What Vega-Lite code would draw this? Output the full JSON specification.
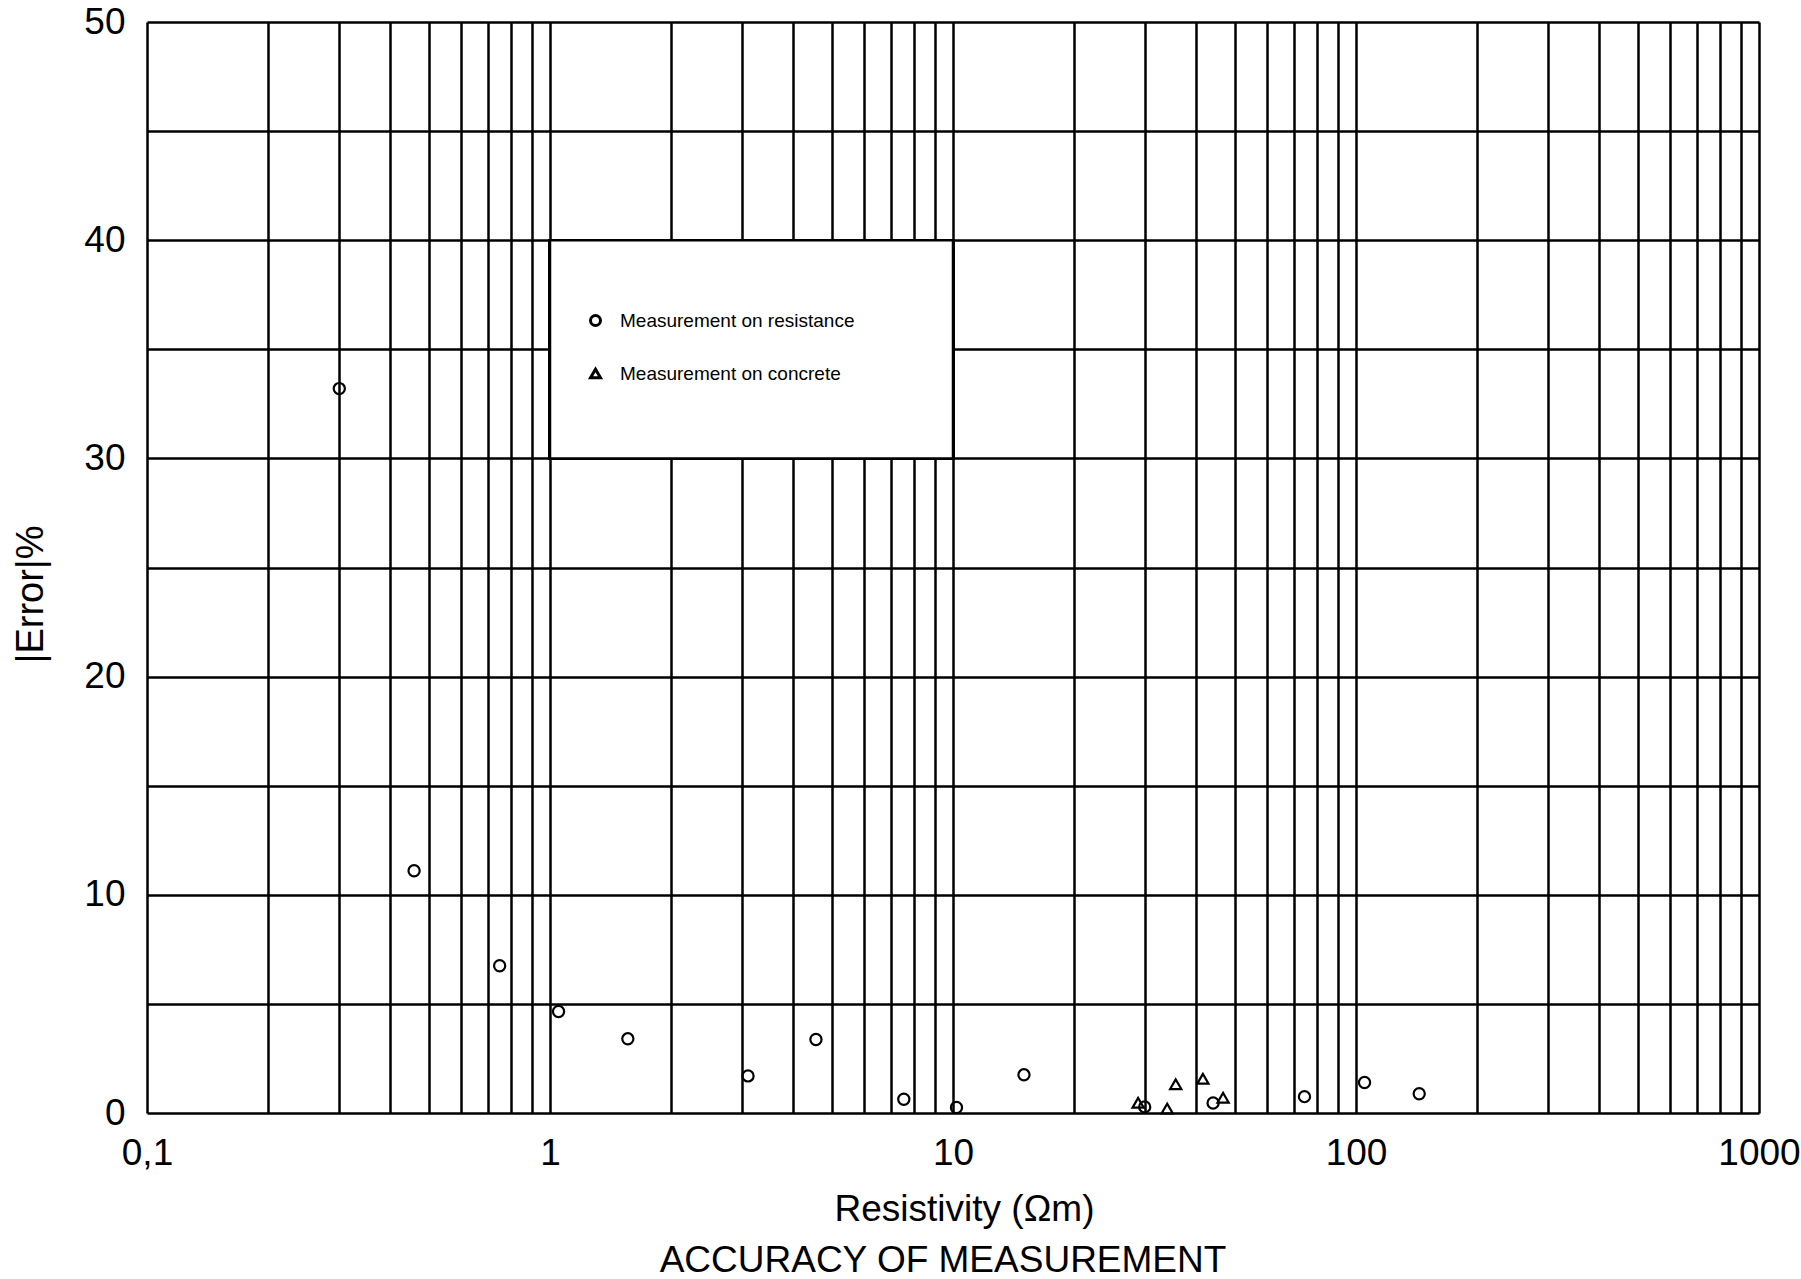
{
  "$schema": "https://vega.github.io/schema/vega-lite/v6.json",
  "width": 1612,
  "height": 1091,
  "autosize": {"type": "none"},
  "padding": {"left": 147, "top": 22, "right": 42, "bottom": 166},
  "background": "white",
  "title": {
    "text": "ACCURACY  OF  MEASUREMENT",
    "orient": "bottom",
    "anchor": "middle",
    "font": "Liberation Sans",
    "fontSize": 37,
    "fontWeight": "normal",
    "color": "black",
    "dx": -10,
    "offset": 16
  },
  "data": {
    "values": [
      {"rho": 0.3, "err": 33.2, "type": "Measurement on resistance"},
      {"rho": 0.46, "err": 11.1, "type": "Measurement on resistance"},
      {"rho": 0.75, "err": 6.75, "type": "Measurement on resistance"},
      {"rho": 1.05, "err": 4.65, "type": "Measurement on resistance"},
      {"rho": 1.56, "err": 3.4, "type": "Measurement on resistance"},
      {"rho": 3.1, "err": 1.7, "type": "Measurement on resistance"},
      {"rho": 4.57, "err": 3.37, "type": "Measurement on resistance"},
      {"rho": 7.55, "err": 0.63, "type": "Measurement on resistance"},
      {"rho": 10.2, "err": 0.25, "type": "Measurement on resistance"},
      {"rho": 15.0, "err": 1.75, "type": "Measurement on resistance"},
      {"rho": 29.9, "err": 0.28, "type": "Measurement on resistance"},
      {"rho": 44.2, "err": 0.46, "type": "Measurement on resistance"},
      {"rho": 74.5, "err": 0.75, "type": "Measurement on resistance"},
      {"rho": 105, "err": 1.4, "type": "Measurement on resistance"},
      {"rho": 143.5, "err": 0.88, "type": "Measurement on resistance"},
      {"rho": 28.8, "err": 0.47, "type": "Measurement on concrete"},
      {"rho": 34.0, "err": 0.2, "type": "Measurement on concrete"},
      {"rho": 35.7, "err": 1.32, "type": "Measurement on concrete"},
      {"rho": 41.7, "err": 1.57, "type": "Measurement on concrete"},
      {"rho": 46.8, "err": 0.7, "type": "Measurement on concrete"}
    ]
  },
  "layer": [
    {
      "mark": {"type": "rect", "fill": "white", "stroke": "black", "strokeWidth": 2.5},
      "encoding": {
        "x": {"datum": 1, "type": "quantitative"},
        "x2": {"datum": 10},
        "y": {"datum": 30, "type": "quantitative"},
        "y2": {"datum": 40}
      }
    },
    {
      "mark": {"type": "point", "filled": false, "strokeWidth": 2.2, "color": "black", "size": 125, "opacity": 1},
      "encoding": {
        "x": {
          "field": "rho",
          "type": "quantitative",
          "scale": {"type": "log", "domain": [0.1, 1000], "nice": false},
          "axis": {
            "title": "Resistivity (Ωm)",
            "values": [0.1, 0.2, 0.3, 0.4, 0.5, 0.6, 0.7, 0.8, 0.9, 1, 2, 3, 4, 5, 6, 7, 8, 9, 10, 20, 30, 40, 50, 60, 70, 80, 90, 100, 200, 300, 400, 500, 600, 700, 800, 900, 1000],
            "labelExpr": "datum.value == 0.1 ? '0,1' : (datum.value == 1 || datum.value == 10 || datum.value == 100 || datum.value == 1000) ? format(datum.value, 'd') : ''",
            "labelFlush": false,
            "labelOverlap": false,
            "labelPadding": 22,
            "titleX": 817,
            "titleY": 107,
            "titleAlign": "center",
            "titleBaseline": "alphabetic",
            "titleFontSize": 37
          }
        },
        "y": {
          "field": "err",
          "type": "quantitative",
          "scale": {"domain": [0, 50], "nice": false},
          "axis": {
            "title": "|Error|%",
            "values": [0, 5, 10, 15, 20, 25, 30, 35, 40, 45, 50],
            "labelExpr": "datum.value % 10 == 0 ? datum.label : ''",
            "labelFlush": false,
            "labelOverlap": false,
            "labelPadding": 22,
            "labelBaseline": "middle",
            "titleAngle": -90,
            "titleX": -116,
            "titleY": 572,
            "titleAlign": "center",
            "titleBaseline": "middle",
            "titleFontSize": 38
          }
        },
        "shape": {
          "field": "type",
          "type": "nominal",
          "scale": {
            "domain": ["Measurement on resistance", "Measurement on concrete"],
            "range": ["circle", "triangle-up"]
          },
          "legend": {
            "title": null,
            "orient": "none",
            "legendX": 439,
            "legendY": 289,
            "padding": 0,
            "labelFont": "Liberation Sans",
            "labelFontSize": 19,
            "labelColor": "black",
            "labelOffset": 15,
            "rowPadding": 31,
            "symbolSize": 100,
            "symbolStrokeWidth": 3,
            "symbolStrokeColor": "black",
            "symbolFillColor": "white",
            "labelLimit": 400
          }
        }
      }
    }
  ],
  "config": {
    "view": {"stroke": null},
    "axis": {
      "domain": false,
      "ticks": false,
      "grid": true,
      "gridColor": "black",
      "gridWidth": 2.5,
      "gridOpacity": 1,
      "labelFont": "Liberation Sans",
      "labelFontSize": 37,
      "labelColor": "black",
      "titleFont": "Liberation Sans",
      "titleFontWeight": "normal",
      "titleColor": "black"
    }
  }
}
